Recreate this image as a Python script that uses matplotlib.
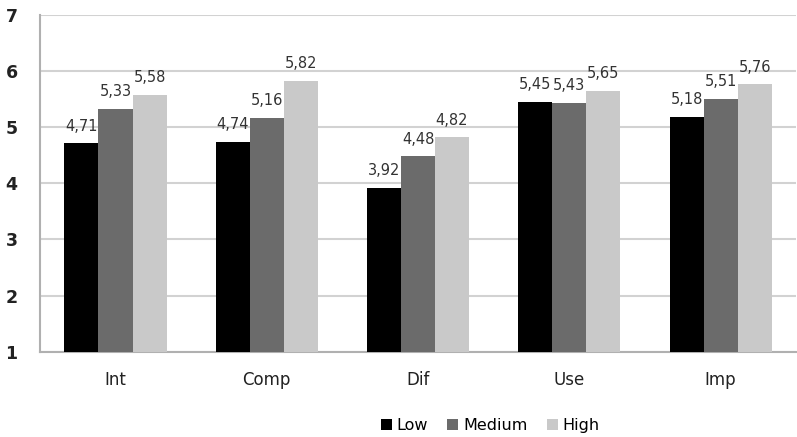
import numpy as np
import matplotlib
matplotlib.use("Agg")
import matplotlib.pyplot as plt

categories = ["Int", "Comp", "Dif", "Use", "Imp"]
series = ["Low", "Medium", "High"]
low = [4.71, 4.74, 3.92, 5.45, 5.18]
medium = [5.33, 5.16, 4.48, 5.43, 5.51]
high = [5.58, 5.82, 4.82, 5.65, 5.76]
colors = ["#000000", "#6b6b6b", "#c9c9c9"]

plt.rcParams["font.family"] = ["DejaVu Sans"]

fig = plt.figure(figsize=(7.97, 4.37), dpi=100)
ax = fig.add_axes([0.050, 0.195, 0.949, 0.771])

x = np.arange(len(categories))
w = 0.225
for i, (vals, name, col) in enumerate(zip([low, medium, high], series, colors)):
    pos = x + (i - 1) * w
    ax.bar(pos, np.array(vals) - 1, width=w, bottom=1, color=col,
           label=name, zorder=3)
    for xp, v in zip(pos, vals):
        ax.annotate(("%.2f" % v).replace(".", ","), (xp, v),
                    xytext=(0, 7), textcoords="offset points",
                    ha="center", va="bottom", fontsize=10.5, color="#333333")

ax.set_ylim(1, 7)
ax.set_xlim(-0.5, 4.5)
ax.set_yticks(range(1, 8))
ax.yaxis.grid(True, color="#d2d2d2", linewidth=1.5, zorder=0)
ax.set_xticks(x)
ax.set_xticklabels(categories, fontsize=12, color="#222222")
ax.tick_params(axis="x", length=0, pad=14)
ax.tick_params(axis="y", length=0, pad=16, labelsize=12.5, labelcolor="#222222")
for lab in ax.get_yticklabels():
    lab.set_fontweight("bold")
for s in ["top", "right"]:
    ax.spines[s].set_visible(False)
for s in ["left", "bottom"]:
    ax.spines[s].set_color("#b0b0b0")
    ax.spines[s].set_linewidth(1.5)

fig.legend(loc="center", bbox_to_anchor=(0.615, 0.027), ncol=3, frameon=False,
           fontsize=11.5, handlelength=0.7, handleheight=0.7, handletextpad=0.3,
           columnspacing=1.2)

fig.savefig("out.png", dpi=100)
